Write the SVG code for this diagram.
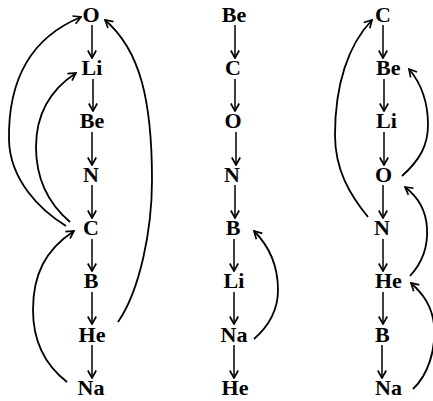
<svg xmlns="http://www.w3.org/2000/svg" width="433" height="401" viewBox="0 0 433 401">
<style>
.t{font-family:"Liberation Serif","Times New Roman",serif;font-weight:bold;font-size:22px;fill:#000}
.m{text-anchor:middle}
.v{stroke:#000;stroke-width:1.5;fill:none;marker-end:url(#ah)}
.c{stroke:#000;stroke-width:1.8;fill:none;marker-end:url(#ah)}
</style>
<defs>
<marker id="ah" markerUnits="userSpaceOnUse" viewBox="0 0 10 10" refX="9" refY="5" markerWidth="10" markerHeight="11" orient="auto">
<path d="M1.5,0.8 L9,5 L1.5,9.2" fill="none" stroke="#000" stroke-width="1.7" stroke-linejoin="miter"/>
</marker>
</defs>
<rect width="433" height="401" fill="#fff"/>
<g id="col1">
<g id="c1-O"><text class="t m" x="91" y="22">O</text></g>
<g id="c1-Li"><text class="t m" x="92" y="75">Li</text></g>
<g id="c1-Be"><text class="t m" x="92" y="128">Be</text></g>
<g id="c1-N"><text class="t m" x="91" y="182">N</text></g>
<g id="c1-C"><text class="t m" x="91" y="235">C</text></g>
<g id="c1-B"><text class="t m" x="91" y="288">B</text></g>
<g id="c1-He"><text class="t m" x="92" y="342">He</text></g>
<g id="c1-Na"><text class="t m" x="91" y="395">Na</text></g>
</g>
<g id="col2">
<g id="c2-Be"><text class="t m" x="234" y="22">Be</text></g>
<g id="c2-C"><text class="t m" x="233" y="75">C</text></g>
<g id="c2-O"><text class="t m" x="233" y="128">O</text></g>
<g id="c2-N"><text class="t m" x="232" y="182">N</text></g>
<g id="c2-B"><text class="t m" x="233" y="235">B</text></g>
<g id="c2-Li"><text class="t m" x="234" y="288">Li</text></g>
<g id="c2-Na"><text class="t m" x="234" y="342">Na</text></g>
<g id="c2-He"><text class="t m" x="235" y="395">He</text></g>
</g>
<g id="col3">
<g id="c3-C"><text class="t" x="375" y="22">C</text></g>
<g id="c3-Be"><text class="t" x="376" y="75">Be</text></g>
<g id="c3-Li"><text class="t" x="376" y="128">Li</text></g>
<g id="c3-O"><text class="t" x="375" y="182">O</text></g>
<g id="c3-N"><text class="t" x="374" y="235">N</text></g>
<g id="c3-He"><text class="t" x="375" y="288">He</text></g>
<g id="c3-B"><text class="t" x="375" y="342">B</text></g>
<g id="c3-Na"><text class="t" x="375" y="395">Na</text></g>
</g>
<g id="connectors">
<path class="v" d="M92,25 V58"/>
<path class="v" d="M93,79 V111"/>
<path class="v" d="M92,132 V165"/>
<path class="v" d="M92,185 V218"/>
<path class="v" d="M92,239 V271"/>
<path class="v" d="M92,292 V324"/>
<path class="v" d="M92,345 V378"/>
<path class="v" d="M235,25 V58"/>
<path class="v" d="M235,79 V111"/>
<path class="v" d="M236,132 V165"/>
<path class="v" d="M235,185 V218"/>
<path class="v" d="M234,239 V271"/>
<path class="v" d="M234,292 V324"/>
<path class="v" d="M234,345 V378"/>
<path class="v" d="M383,25 V58"/>
<path class="v" d="M384,79 V111"/>
<path class="v" d="M384,132 V165"/>
<path class="v" d="M383,185 V218"/>
<path class="v" d="M383,239 V271"/>
<path class="v" d="M383,292 V324"/>
<path class="v" d="M382,345 V378"/>
<path class="c" d="M66,226 C40,210 10,180 9,140 C8,80 30,38 81,17"/>
<path class="c" d="M70,222 C50,205 36,180 36,147 C36,115 50,90 76,73"/>
<path class="c" d="M118,322 C140,290 152,230 152,180 C152,100 140,50 105,20"/>
<path class="c" d="M67,382 C45,365 33,340 33,310 C33,275 45,250 74,231"/>
<path class="c" d="M254,339 C270,325 278,310 278,290 C278,265 268,245 254,231"/>
<path class="c" d="M368,217 C350,195 335,170 335,135 C335,85 348,45 372,20"/>
<path class="c" d="M402,176 C420,160 428,145 428,125 C428,100 420,82 409,69"/>
<path class="c" d="M410,276 C423,262 428,245 427,228 C426,210 418,197 405,187"/>
<path class="c" d="M413,389 C428,375 436,350 434,325 C432,305 422,293 411,283"/>
</g>
</svg>
